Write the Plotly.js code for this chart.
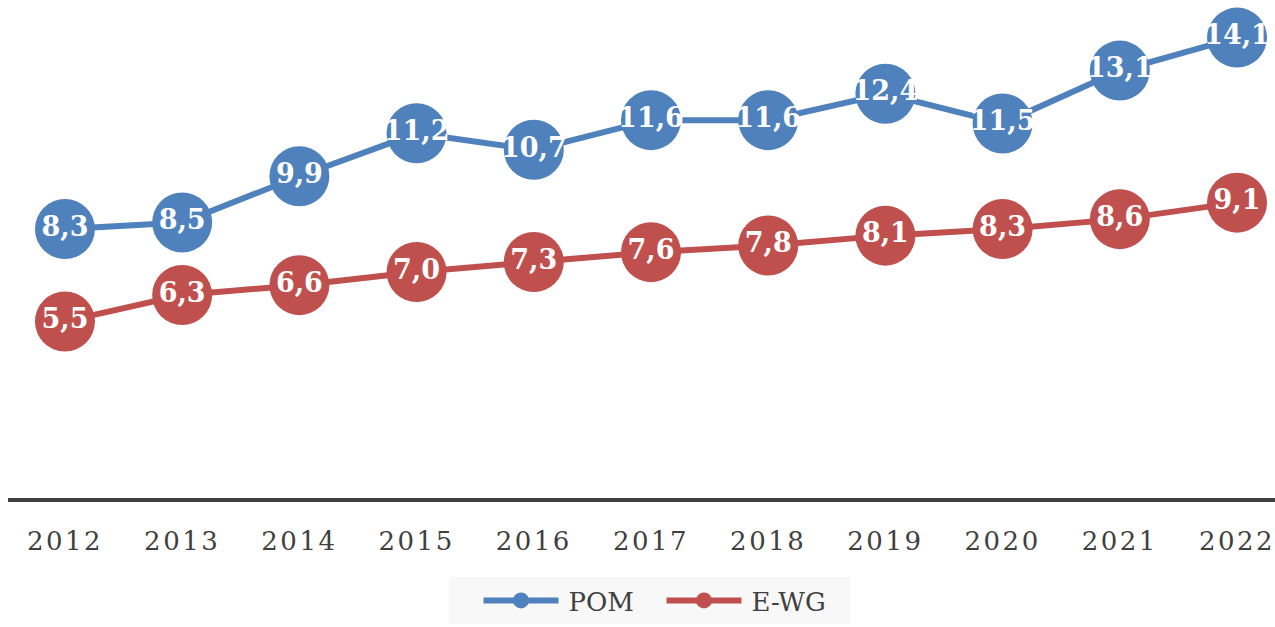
<!DOCTYPE html>
<html>
<head>
<meta charset="utf-8">
<script src="https://cdn.plot.ly/plotly-3.0.1.min.js"></script>
<style>
html,body{margin:0;padding:0;background:#fff;}
#chart{width:1275px;height:627px;}
.xtick text{letter-spacing:2.5px;}
</style>
</head>
<body>
<div id="chart"></div>
<script>
const years = ['2012','2013','2014','2015','2016','2017','2018','2019','2020','2021','2022'];
const pom = [8.3, 8.5, 9.9, 11.2, 10.7, 11.6, 11.6, 12.4, 11.5, 13.1, 14.1];
const ewg = [5.5, 6.3, 6.6, 7.0, 7.3, 7.6, 7.8, 8.1, 8.3, 8.6, 9.1];
const seriesNames = ['POM', 'E-WG'];

const fmt = v => v.toFixed(1).replace('.', ',');
const labelFont = {family: 'DejaVu Serif', size: 27, color: '#ffffff', weight: 'bold'};

function mk(name, ys, color) {
  return {
    type: 'scatter', mode: 'lines+markers+text', name: name,
    x: years, y: ys, text: ys.map(fmt), textposition: 'middle center',
    textfont: labelFont, cliponaxis: false,
    line: {color: color, width: 6},
    marker: {color: color, size: 60, line: {width: 0}},
    hoverinfo: 'skip'
  };
}

const data = [mk(seriesNames[0], pom, '#4f81bd'), mk(seriesNames[1], ewg, '#c0504d')];

const layout = {
  width: 1275, height: 627,
  margin: {l: 8, r: 0, t: 0, b: 129},
  paper_bgcolor: '#ffffff', plot_bgcolor: '#ffffff',
  showlegend: true,
  legend: {
    orientation: 'h', x: 0.3674, xanchor: 'left', y: -0.1586, yanchor: 'top',
    bgcolor: '#f8f8f8', font: {family: 'DejaVu Serif', size: 26, color: '#404040'},
    itemwidth: 85, entrywidth: 83, entrywidthmode: 'pixels'
  },
  xaxis: {
    type: 'category', range: [-0.486, 10.324],
    showgrid: false, zeroline: false,
    showline: true, linewidth: 4, linecolor: '#404040',
    ticks: '', ticklabelstandoff: 17,
    tickfont: {family: 'DejaVu Serif', size: 26, color: '#404040'}
  },
  yaxis: {
    range: [0.15, 15.24], showgrid: false, zeroline: false, showline: false,
    showticklabels: false, ticks: ''
  }
};

function fixLegend() {
  document.querySelectorAll('.legend .traces').forEach(tr => {
    const m = tr.querySelector('.legendpoints path');
    const lines = tr.querySelectorAll('.legendlines path');
    if (!m) return;
    const r = m.getBoundingClientRect();
    const cx = r.left + r.width / 2;
    lines.forEach(p => {
      const ctm = p.parentNode.getScreenCTM();
      const lx = (cx - ctm.e) / ctm.a;
      p.setAttribute('d', 'M' + (lx - 37.5) + ',0h75');
    });
  });
  const bg = document.querySelector('.legend .bg');
  if (bg) {
    const ctm = bg.parentNode.getScreenCTM();
    bg.setAttribute('x', 449 - ctm.e);
    bg.setAttribute('width', 401);
  }
}

Plotly.newPlot('chart', data, layout, {staticPlot: true, displayModeBar: false}).then(fixLegend);
</script>
</body>
</html>
